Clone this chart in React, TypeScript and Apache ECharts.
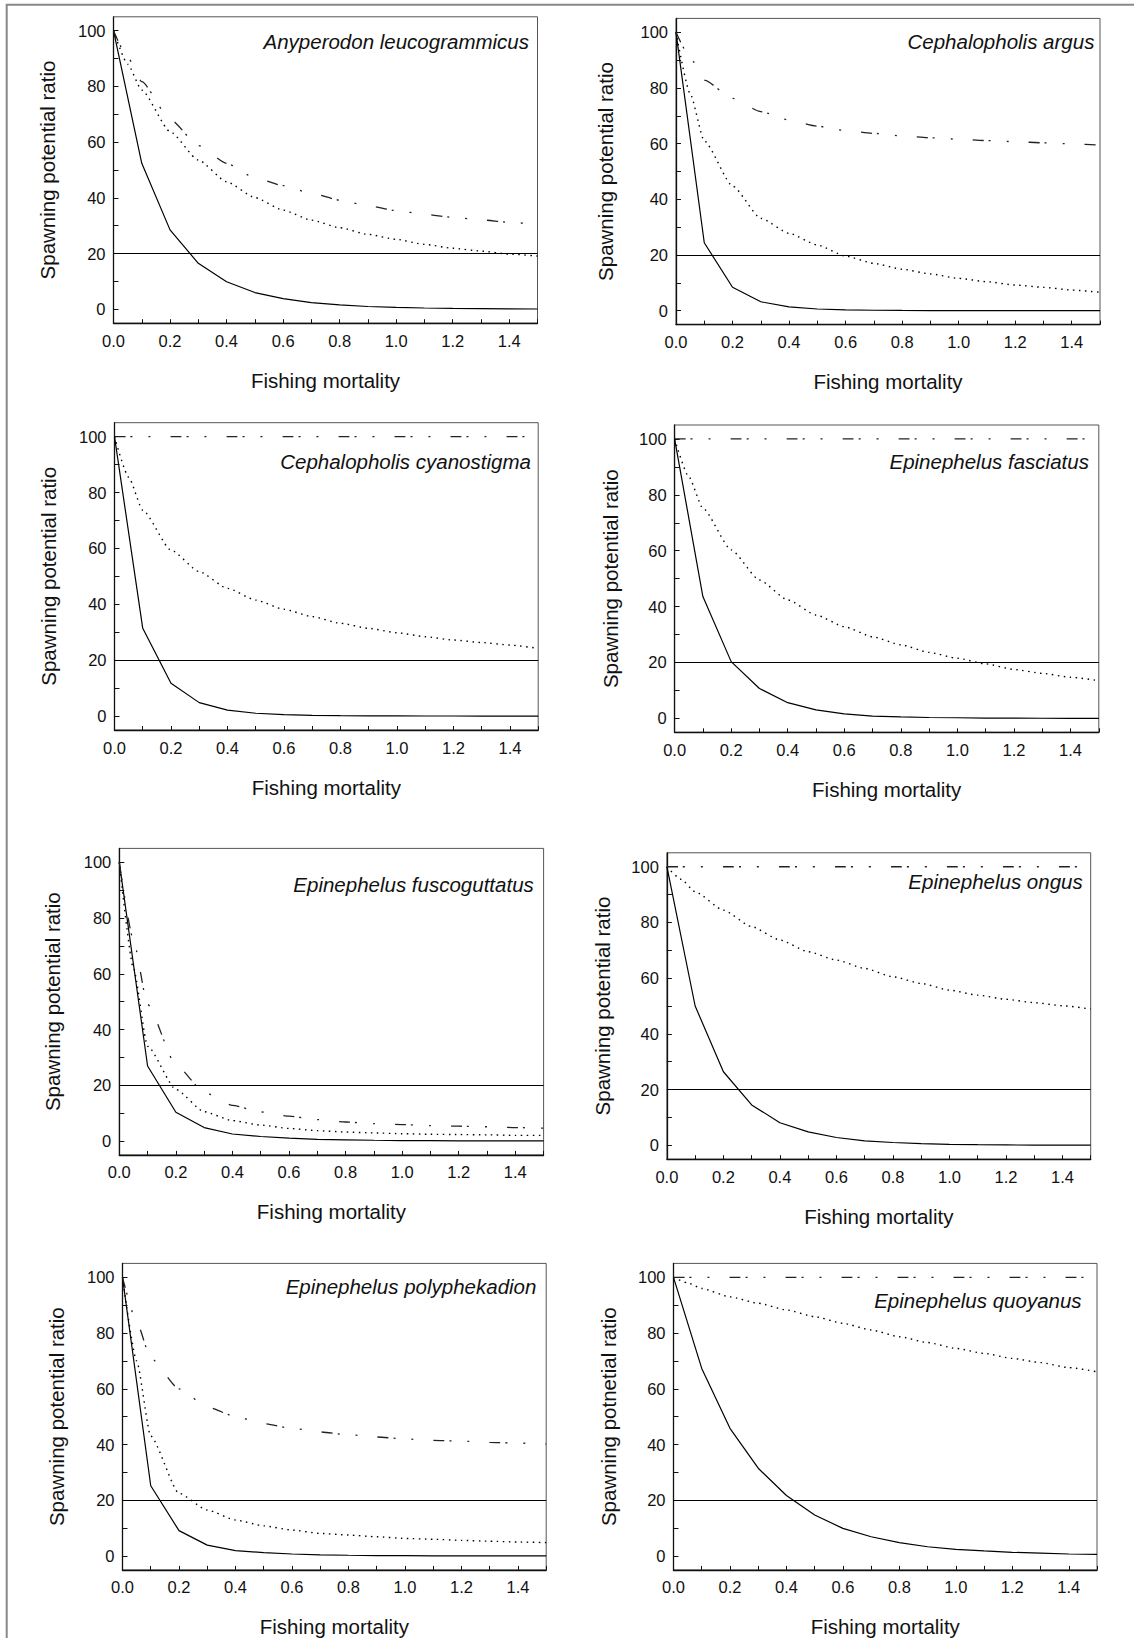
import React, { useEffect, useRef } from "react";
import * as echarts from "echarts";

// ---------- data ----------
const F = [0, 0.1, 0.2, 0.3, 0.4, 0.5, 0.6, 0.7, 0.8, 0.9, 1.0, 1.1, 1.2, 1.3, 1.4, 1.5];
const FC = [0, 0.05, 0.1, 0.2, 0.3, 0.4, 0.5, 0.6, 0.7, 0.8, 0.9, 1.0, 1.1, 1.2, 1.3, 1.4, 1.5];
const X_TICKS = [0, 0.1, 0.2, 0.3, 0.4, 0.5, 0.6, 0.7, 0.8, 0.9, 1.0, 1.1, 1.2, 1.3, 1.4, 1.5];
const X_LABELS = [0, 0.2, 0.4, 0.6, 0.8, 1.0, 1.2, 1.4];
const Y_TICKS = [0, 10, 20, 30, 40, 50, 60, 70, 80, 90, 100];
const Y_LABELS = [0, 20, 40, 60, 80, 100];
const REFERENCE_SPR = 20;

const SPECIES = [
  "Anyperodon leucogrammicus",
  "Cephalopholis argus",
  "Cephalopholis cyanostigma",
  "Epinephelus fasciatus",
  "Epinephelus fuscoguttatus",
  "Epinephelus ongus",
  "Epinephelus polyphekadion",
  "Epinephelus quoyanus",
];
const Y_TITLES = [
  "Spawning potential ratio",
  "Spawning potential ratio",
  "Spawning potential ratio",
  "Spawning potential ratio",
  "Spawning potential ratio",
  "Spawning potential ratio",
  "Spawning potential ratio",
  "Spawning potnetial ratio",
];
const X_TITLE = "Fishing mortality";

// solid curves (at F)
const anyperodonSolid = [100, 52.4, 28.5, 16.5, 9.9, 6.0, 3.8, 2.4, 1.6, 1.0, 0.7, 0.45, 0.3, 0.2, 0.13, 0.09];
const argusSolid = [100, 24.4, 8.4, 3.2, 1.4, 0.6, 0.3, 0.15, 0.08, 0.05, 0.03, 0.02, 0.01, 0.01, 0, 0];
const cyanostigmaSolid = [100, 31.4, 11.7, 4.8, 2.1, 1.0, 0.5, 0.25, 0.12, 0.06, 0.03, 0.02, 0.01, 0, 0, 0];
const fasciatusSolid = [100, 43.6, 20.3, 10.7, 5.6, 3.0, 1.6, 0.8, 0.5, 0.3, 0.2, 0.1, 0.05, 0.03, 0.02, 0.01];
const fuscoguttatusSolid = [100, 26.9, 10.3, 4.8, 2.5, 1.6, 1.0, 0.6, 0.4, 0.25, 0.15, 0.1, 0.06, 0.04, 0.03, 0.02];
const ongusSolid = [100, 50, 26.4, 14.5, 8.1, 4.8, 2.8, 1.6, 1.0, 0.6, 0.35, 0.2, 0.12, 0.07, 0.04, 0.02];
const polyphekadionSolid = [100, 25.2, 9.1, 3.9, 1.9, 1.2, 0.7, 0.4, 0.25, 0.15, 0.1, 0.06, 0.04, 0.02, 0.01, 0.01];
const quoyanusSolid = [100, 67.3, 45.8, 31.5, 21.7, 14.7, 9.9, 6.9, 4.8, 3.3, 2.4, 1.8, 1.3, 1.0, 0.7, 0.6];

// dotted curves (at FC)
const anyperodonDotted = [100, 88, 78.7, 63.8, 53.6, 45.8, 40.1, 35.6, 32.0, 29.3, 26.9, 25.1, 23.3, 21.9, 20.9, 19.8, 19.1];
const argusDotted = [100, 78, 61, 44.8, 33.2, 27.8, 23.6, 19.6, 17.0, 14.9, 13.2, 11.6, 10.4, 9.2, 8.4, 7.4, 6.6];
const cyanostigmaDotted = [100, 85.5, 73.7, 59.4, 51.7, 45.7, 41.5, 38.2, 35.6, 33.2, 31.4, 29.8, 28.4, 27.2, 26.3, 25.4, 24.2];
const fasciatusDotted = [100, 86.5, 75.2, 60.3, 49.5, 42.4, 37.0, 32.8, 29.2, 26.3, 23.6, 21.5, 19.5, 17.5, 16.1, 14.7, 13.5];
const fuscoguttatusDotted = [100, 62, 34, 18.5, 10.5, 7.3, 5.7, 4.5, 3.7, 3.2, 2.9, 2.6, 2.4, 2.3, 2.2, 2.0, 2.0];
const ongusDotted = [100, 95.5, 91, 84.4, 78.5, 73.7, 69.5, 66.5, 63.5, 60.5, 58.1, 55.7, 53.9, 52.4, 51.2, 50.1, 48.9];
const polyphekadionDotted = [100, 70, 43, 22.5, 16.5, 12.9, 10.8, 9.3, 8.1, 7.5, 6.9, 6.3, 6.0, 5.6, 5.3, 5.0, 4.8];
const quoyanusDotted = [100, 98, 96, 93, 90.7, 88.3, 85.9, 83.5, 81.1, 78.7, 76.6, 74.5, 72.7, 70.9, 69.4, 67.6, 66.1];

// dash-dot-dot curves (at FC)
const anyperodonDashDot = [100, 90.5, 81.7, 68.2, 58.8, 52.4, 47.2, 44.4, 41.6, 39.2, 37.2, 35.4, 34.1, 33.0, 32.1, 31.2, 30.5];
const argusDashDot = [100, 91, 82.8, 76.3, 71.5, 68.5, 66.3, 64.7, 63.7, 62.8, 62.1, 61.6, 61.1, 60.7, 60.3, 59.9, 59.5];
const cyanostigmaDashDot = [100, 100, 100, 100, 100, 100, 100, 100, 100, 100, 100, 100, 100, 100, 100, 100, 100];
const fasciatusDashDot = [100, 100, 100, 100, 100, 100, 100, 100, 100, 100, 100, 100, 100, 100, 100, 100, 100];
const fuscoguttatusDashDot = [100, 72, 49, 27.3, 17.5, 12.8, 10.4, 8.9, 7.7, 6.8, 6.2, 5.9, 5.5, 5.3, 5.1, 4.8, 4.6];
const ongusDashDot = [100, 100, 100, 100, 100, 100, 100, 100, 100, 100, 100, 100, 100, 100, 100, 100, 100];
const polyphekadionDashDot = [100, 84, 71, 60, 53.5, 50, 47.5, 45.8, 44.5, 43.5, 42.7, 42, 41.5, 41.2, 40.8, 40.5, 40.2];
const quoyanusDashDot = [100, 100, 100, 100, 100, 100, 100, 100, 100, 100, 100, 100, 100, 100, 100, 100, 100];

const SOLIDS = [anyperodonSolid, argusSolid, cyanostigmaSolid, fasciatusSolid, fuscoguttatusSolid, ongusSolid, polyphekadionSolid, quoyanusSolid];
const DOTTEDS = [anyperodonDotted, argusDotted, cyanostigmaDotted, fasciatusDotted, fuscoguttatusDotted, ongusDotted, polyphekadionDotted, quoyanusDotted];
const DASHDOTS = [anyperodonDashDot, argusDashDot, cyanostigmaDashDot, fasciatusDashDot, fuscoguttatusDashDot, ongusDashDot, polyphekadionDashDot, quoyanusDashDot];

// ---------- layout (pixels) ----------
const LAYOUT = [
  { left: 113.5, top: 16.8, width: 424, height: 306.4, yTitleX: 47, titleX: 529, titleY: 41.7 },
  { left: 676, top: 18.4, width: 424, height: 306.2, yTitleX: 605, titleX: 1094.4, titleY: 41.7 },
  { left: 114.5, top: 422.7, width: 423.7, height: 307.3, yTitleX: 48.5, titleX: 530.9, titleY: 461.7 },
  { left: 674.6, top: 425, width: 424.2, height: 307.3, yTitleX: 610, titleX: 1088.9, titleY: 461 },
  { left: 119.3, top: 848.4, width: 424.3, height: 306.5, yTitleX: 52, titleX: 533.8, titleY: 884 },
  { left: 666.9, top: 852.8, width: 423.8, height: 306.4, yTitleX: 602, titleX: 1082.7, titleY: 881.5 },
  { left: 122.5, top: 1263.4, width: 423.7, height: 306.5, yTitleX: 56.5, titleX: 536.4, titleY: 1286 },
  { left: 673.5, top: 1263.4, width: 423.5, height: 306.5, yTitleX: 608, titleX: 1081.6, titleY: 1300 },
];

const FONT = "'Liberation Sans', Arial, Helvetica, sans-serif";

function buildOption() {
  const grid: any[] = [];
  const xAxis: any[] = [];
  const yAxis: any[] = [];
  const series: any[] = [];
  const graphic: any[] = [];

  LAYOUT.forEach((L, i) => {
    grid.push({
      left: L.left,
      top: L.top,
      width: L.width,
      height: L.height,
      show: true,
      borderColor: "#555",
      borderWidth: 1,
      backgroundColor: "transparent",
      containLabel: false,
    });
    xAxis.push({
      type: "value",
      gridIndex: i,
      min: 0,
      max: 1.5,
      axisLine: { show: true, onZero: false, lineStyle: { color: "#111", width: 1.3 } },
      axisTick: { show: true, inside: true, length: 4, customValues: X_TICKS, lineStyle: { color: "#111", width: 1 } },
      axisLabel: {
        show: true,
        customValues: X_LABELS,
        formatter: (v: number) => v.toFixed(1),
        color: "#111",
        fontFamily: FONT,
        fontSize: 16.5,
        margin: 9,
      },
      splitLine: { show: false },
    });
    yAxis.push({
      type: "value",
      gridIndex: i,
      min: -5,
      max: 105,
      axisLine: { show: true, onZero: false, lineStyle: { color: "#111", width: 1.3 } },
      axisTick: { show: true, inside: true, length: 5, customValues: Y_TICKS, lineStyle: { color: "#111", width: 1 } },
      axisLabel: {
        show: true,
        customValues: Y_LABELS,
        color: "#111",
        fontFamily: FONT,
        fontSize: 16.5,
        margin: 8,
      },
      splitLine: { show: false },
    });

    series.push({
      type: "line",
      xAxisIndex: i,
      yAxisIndex: i,
      data: F.map((f, k) => [f, SOLIDS[i][k]]),
      showSymbol: false,
      symbol: "none",
      lineStyle: { color: "#000", width: 1.2, type: "solid" },
      markLine: {
        silent: true,
        symbol: "none",
        label: { show: false },
        lineStyle: { color: "#000", width: 1.2, type: "solid" },
        data: [{ yAxis: REFERENCE_SPR }],
      },
      z: 3,
    });
    series.push({
      type: "line",
      xAxisIndex: i,
      yAxisIndex: i,
      data: FC.map((f, k) => [f, DOTTEDS[i][k]]),
      showSymbol: false,
      symbol: "none",
      smooth: 0.2,
      smoothMonotone: "x",
      lineStyle: { color: "#000", width: 1.4, type: [1.5, 4.5] },
      z: 3,
    });
    series.push({
      type: "line",
      xAxisIndex: i,
      yAxisIndex: i,
      data: FC.map((f, k) => [f, DASHDOTS[i][k]]),
      showSymbol: false,
      symbol: "none",
      smooth: 0.2,
      smoothMonotone: "x",
      lineStyle: { color: "#222", width: 1.3, type: [11, 5, 2, 16, 2, 20] },
      z: 3,
    });

    const cx = L.left + L.width / 2;
    const cy = L.top + L.height / 2;
    graphic.push({
      type: "text",
      x: L.yTitleX,
      y: cy,
      rotation: Math.PI / 2,
      style: {
        text: Y_TITLES[i],
        fill: "#111",
        font: `20.5px ${FONT}`,
        align: "center",
        verticalAlign: "middle",
      },
    });
    graphic.push({
      type: "text",
      x: cx,
      y: L.top + L.height + 57,
      style: {
        text: X_TITLE,
        fill: "#111",
        font: `20.5px ${FONT}`,
        align: "center",
        verticalAlign: "middle",
      },
    });
    graphic.push({
      type: "text",
      x: L.titleX,
      y: L.titleY,
      style: {
        text: SPECIES[i],
        fill: "#111",
        font: `italic 20.5px ${FONT}`,
        align: "right",
        verticalAlign: "middle",
      },
    });
  });

  // outer figure frame (left and top edges)
  graphic.push({
    type: "polyline",
    shape: { points: [[6.7, 1640], [6.7, 4.7], [1136, 4.7]] },
    style: { stroke: "#888", lineWidth: 2, fill: "none" },
  });

  return {
    animation: false,
    backgroundColor: "#fff",
    grid,
    xAxis,
    yAxis,
    series,
    graphic,
  };
}

export default function App() {
  const ref = useRef<HTMLDivElement>(null);
  useEffect(() => {
    if (!ref.current) return;
    const chart = echarts.init(ref.current, null, { renderer: "svg" });
    chart.setOption(buildOption() as any);
    return () => chart.dispose();
  }, []);
  return (
    <div
      ref={ref}
      style={{ position: "absolute", left: 0, top: 0, width: 1134, height: 1638, background: "#fff" }}
    />
  );
}
